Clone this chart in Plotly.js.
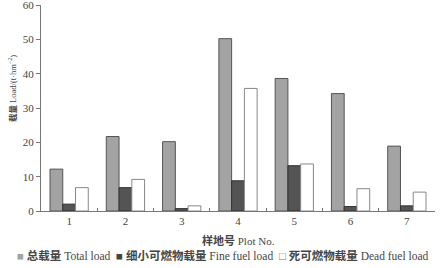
<!DOCTYPE html>
<html><head><meta charset="utf-8">
<script src="https://cdn.plot.ly/plotly-3.0.1.min.js"></script>
<style>html,body{margin:0;padding:0;background:#fff}#c{width:445px;height:268px}</style>
</head><body><div id="c"></div>
<script>
const plots = ['1','2','3','4','5','6','7'];
const totalLoad = [12.2, 21.7, 20.2, 50.2, 38.6, 34.2, 18.9];
const fineLoad = [2.0, 6.8, 0.7, 8.8, 13.2, 1.3, 1.5];
const deadLoad = [6.8, 9.2, 1.5, 35.7, 13.7, 6.5, 5.5];
const names = ['总载量 Total load', '细小可燃物载量 Fine fuel load', '死可燃物载量 Dead fuel load'];
const xTitle = '样地号 Plot No.';
const yTitle = '载量 Load/(t·hm<sup>−2</sup>)';
const colors = ['#a3a3a3', '#545454', '#ffffff'];
const lineColors = ['#555', '#333', '#888'];

const fontFam = '"Liberation Serif", "Noto Sans CJK SC", serif';
const traces = [totalLoad, fineLoad, deadLoad].map((v, i) => ({
  type:'bar', name:names[i], x:plots, y:v, showlegend:false,
  marker:{color:colors[i], line:{color:lineColors[i], width:1}}
}));

const boldCjk = s => { const p = s.split(' '); return '<b>' + p[0] + '</b> ' + p.slice(1).join(' '); };
const symbols = ['<span style="color:#a3a3a3">■</span>', '<span style="color:#444">■</span>', '<span style="color:#777">□</span>'];
const legendText = names.map((n, i) => symbols[i] + ' ' + boldCjk(n)).join('  ');

const layout = {
  width:445, height:268,
  margin:{l:41, r:10, t:5, b:57},
  paper_bgcolor:'#fff', plot_bgcolor:'#fff',
  font:{family:fontFam, size:11, color:'#444'},
  barmode:'group', bargap:0.32, bargroupgap:0,
  showlegend:false,
  xaxis:{type:'category', showline:true, linecolor:'#777', linewidth:1, ticks:'inside', ticklen:3, tickcolor:'#777',
         tickson:'boundaries', showgrid:false, zeroline:false},
  yaxis:{range:[0,60], dtick:10, showline:true, linecolor:'#777', linewidth:1, ticks:'outside', ticklen:4, tickcolor:'#777',
         showgrid:false, zeroline:false, ticklabeloverflow:'allow'},
  annotations:[
    {xref:'paper', yref:'paper', x:-0.0736, y:0.592, xanchor:'center', yanchor:'middle', showarrow:false, textangle:-90,
     text:boldCjk(yTitle), font:{size:8.5, color:'#444'}},
    {xref:'paper', yref:'paper', x:0.5, y:-0.1456, xanchor:'center', yanchor:'middle', showarrow:false,
     text:boldCjk(xTitle), font:{size:11, color:'#444'}},
    {xref:'paper', yref:'paper', x:0.462, y:-0.2136, xanchor:'center', yanchor:'middle', showarrow:false,
     text:legendText, font:{size:11.5, color:'#444'}}
  ]
};
Plotly.newPlot('c', traces, layout, {displayModeBar:false, staticPlot:true});
</script></body></html>
